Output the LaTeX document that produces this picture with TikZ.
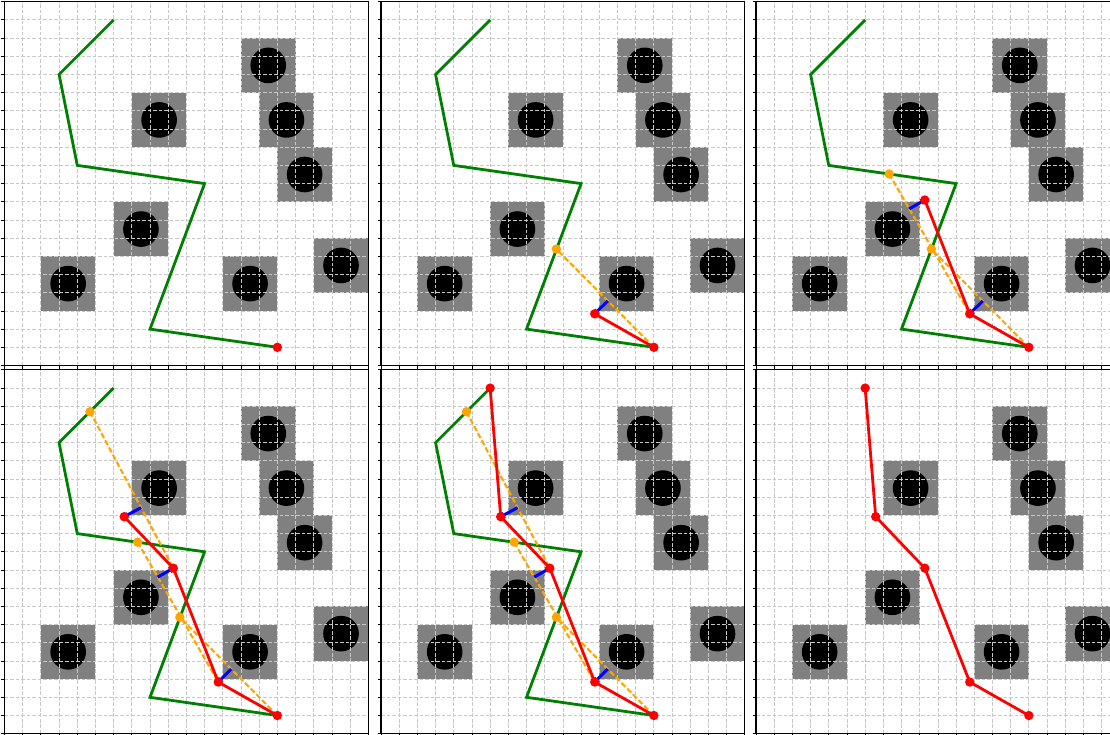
\documentclass[tikz,border=0pt]{standalone}
\usetikzlibrary{arrows.meta,calc}
\definecolor{gridc}{RGB}{200,200,200}
\definecolor{obst}{RGB}{128,128,128}
\definecolor{pgreen}{RGB}{0,128,0}
\definecolor{porange}{RGB}{255,165,0}
\definecolor{pred}{RGB}{255,0,0}
\definecolor{pblue}{RGB}{0,0,255}
\tikzset{
  gridline/.style={gridc, line width=0.8pt, dash pattern=on 3.7pt off 1.8pt},
  obstacle/.style={fill=obst},
  core/.style={fill=black},
  greenpath/.style={pgreen, line width=2.8pt},
  redpath/.style={pred, line width=2.8pt},
  orangedash/.style={porange, line width=2.1pt, dash pattern=on 5.5pt off 2.6pt},
  pusharrow/.style={pblue, line width=3pt, -{Triangle[length=4pt,width=6.5pt]}},
  frameline/.style={black, line width=1.1pt},
  tickline/.style={black, line width=0.8pt},
  reddot/.style={fill=pred},
  orangedot/.style={fill=porange},
  panel/.style={x=18.19pt, y=18.19pt}
}
\newcommand\basepanel{%
  \fill[white] (0,0) rectangle (20,20);
  \foreach \ox/\oy in {13/15,7/12,14/12,15/9,6/6,2/3,12/3,17/4} {
    \fill[obstacle] (\ox,\oy) rectangle ++(3,3);
    \fill[core] (\ox+1.5,\oy+1.5) circle[radius=0.98];
  }
  \foreach \gi in {1,...,19} {
    \draw[gridline] (\gi,0) -- (\gi,20);
    \draw[gridline] (0,\gi) -- (20,\gi);
  }
  \coordinate (g1) at (6,19);
  \coordinate (g2) at (3,16);
  \coordinate (g3) at (4,11);
  \coordinate (g4) at (11,10);
  \coordinate (g5) at (8,2);
  \coordinate (g6) at (15,1);
  \coordinate (E) at (15,1);
  \coordinate (D) at (11.75,2.84);
  \coordinate (C) at (9.28,9.10);
  \coordinate (B) at (6.58,11.93);
  \coordinate (F) at (6,19);
  \coordinate (oc) at (9.64,6.40);
  \coordinate (ob) at (7.32,10.53);
  \coordinate (oa) at (4.70,17.70);
  \coordinate (pD) at ($(oc)!(D)!(E)$);
  \coordinate (pC) at ($(ob)!(C)!(D)$);
  \coordinate (pB) at ($(oa)!(B)!(C)$);
}
\newcommand\framepanel{%
  \draw[frameline] (0,0) rectangle (20,20);
  \foreach \ti in {0,...,20} {
    \draw[tickline] (\ti,0) -- ++(0,-3.5pt);
    \draw[tickline] (0,\ti) -- ++(-3.5pt,0);
  }
}
\newcommand\greenline{\draw[greenpath] (g1) -- (g2) -- (g3) -- (g4) -- (g5) -- (g6);}
\newcommand\rdotat[1]{\fill[reddot] (#1) circle[radius=4.7pt];}
\newcommand\odotat[1]{\fill[orangedot] (#1) circle[radius=4.7pt];}
\begin{document}
\begin{tikzpicture}[x=1pt,y=1pt]
\useasboundingbox (0,0) rectangle (1110,735);
\clip (0,0) rectangle (1110,735);
\fill[white] (0,0) rectangle (1110,735);

% Panel 1
\begin{scope}[shift={(4.5pt,369.5pt)}, panel]
  \basepanel
  \greenline
  \rdotat{E}
  \framepanel
\end{scope}

% Panel 2
\begin{scope}[shift={(381pt,369.5pt)}, panel]
  \basepanel
  \greenline
  \draw[orangedash] (E) -- (oc);
  \draw[redpath] (E) -- (D);
  \draw[pusharrow] (pD) -- (D);
  \odotat{oc}
  \rdotat{E} \rdotat{D}
  \framepanel
\end{scope}

% Panel 3
\begin{scope}[shift={(756pt,369.5pt)}, panel]
  \basepanel
  \greenline
  \draw[orangedash] (E) -- (oc);
  \draw[orangedash] (ob) -- (D);
  \draw[redpath] (E) -- (D) -- (C);
  \draw[pusharrow] (pD) -- (D);
  \draw[pusharrow] (pC) -- (C);
  \odotat{oc} \odotat{ob}
  \rdotat{E} \rdotat{D} \rdotat{C}
  \framepanel
\end{scope}

% Panel 4
\begin{scope}[shift={(4.5pt,1.3pt)}, panel]
  \basepanel
  \greenline
  \draw[orangedash] (E) -- (oc);
  \draw[orangedash] (ob) -- (D);
  \draw[orangedash] (oa) -- (C);
  \draw[redpath] (E) -- (D) -- (C) -- (B);
  \draw[pusharrow] (pD) -- (D);
  \draw[pusharrow] (pC) -- (C);
  \draw[pusharrow] (pB) -- (B);
  \odotat{oc} \odotat{ob} \odotat{oa}
  \rdotat{E} \rdotat{D} \rdotat{C} \rdotat{B}
  \framepanel
\end{scope}

% Panel 5
\begin{scope}[shift={(381pt,1.3pt)}, panel]
  \basepanel
  \greenline
  \draw[orangedash] (E) -- (oc);
  \draw[orangedash] (ob) -- (D);
  \draw[orangedash] (oa) -- (C);
  \draw[redpath] (E) -- (D) -- (C) -- (B) -- (F);
  \draw[pusharrow] (pD) -- (D);
  \draw[pusharrow] (pC) -- (C);
  \draw[pusharrow] (pB) -- (B);
  \odotat{oc} \odotat{ob} \odotat{oa}
  \rdotat{E} \rdotat{D} \rdotat{C} \rdotat{B} \rdotat{F}
  \framepanel
\end{scope}

% Panel 6
\begin{scope}[shift={(756pt,1.3pt)}, panel]
  \basepanel
  \draw[redpath] (F) -- (B) -- (C) -- (D) -- (E);
  \rdotat{E} \rdotat{D} \rdotat{C} \rdotat{B} \rdotat{F}
  \framepanel
\end{scope}
\end{tikzpicture}
\end{document}
